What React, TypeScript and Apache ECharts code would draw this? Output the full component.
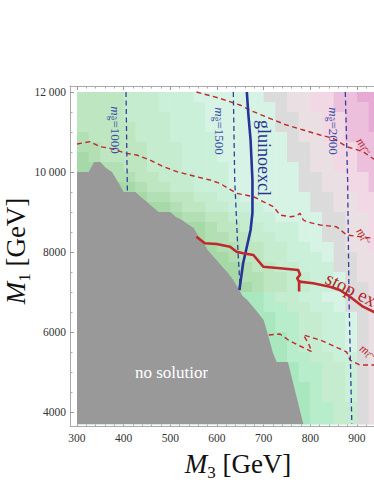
import React, { useEffect, useRef } from "react";
import * as echarts from "echarts";

const SERIF = "'Liberation Serif', 'DejaVu Serif', serif";

// ---------- axis ticks ----------
const xMajorTicks = [300, 400, 500, 600, 700, 800, 900, 1000];
const xTickLabels = [300, 400, 500, 600, 700, 800, 900];
const xMinorTicks = [320, 340, 360, 380, 420, 440, 460, 480, 520, 540, 560, 580, 620, 640, 660, 680, 720, 740, 760, 780, 820, 840, 860, 880, 920, 940, 960, 980];
const yMajorTicks = [4000, 6000, 8000, 10000, 12000];
const yMinorTicks = [4500, 5000, 5500, 6500, 7000, 7500, 8500, 9000, 9500, 10500, 11000, 11500];

// ---------- background shading (level per cell) ----------
// rows: from M1 = 12000 downwards, 250 GeV each (last row reaches 3700)
// columns: from M3 = 300, 25 GeV each
const levelRows = [
  "222233344455555566778899aaaa",
  "2222333444455555567788999aaa",
  "2222333344455555566778899aaa",
  "2222233344455555566778899aaa",
  "12222333444455555567788999aa",
  "11222233344455555566778899aa",
  "01222233344455555566778899aa",
  "001122333444455555567788999a",
  "000112233344455555566778899a",
  "0000012233444555555667788999",
  "0000001122334455555566778899",
  "0000000012233444555566778899",
  "0000000001122334455556677889",
  "0000000000012233444556677889",
  "0000000000011223344556677889",
  "0000000000001122334455677889",
  "0000000000000122334445667788",
  "0000000000000012233444667788",
  "0000000000000011223344567788",
  "0000000000000001223344466778",
  "mmmmmmmmmmmmmmmmn33445566778",
  "mmmmmmmmmmmmmmmmnn3344566778",
  "mmmmmmmmmmmmmmmmmnn334456778",
  "mmmmmmmmmmmmmmmmmnn334456778",
  "mmmmmmmmmmmmmmmmmmn334456778",
  "mmmmmmmmmmmmmmmmmmn334456778",
  "mmmmmmmmmmmmmmmmmmnn33446778",
  "mmmmmmmmmmmmmmmmmmmnn3346778",
  "mmmmmmmmmmmmmmmmmmmnn3346778",
  "mmmmmmmmmmmmmmmmmmmmn3346778",
  "mmmmmmmmmmmmmmmmmmmmn3346778",
  "mmmmmmmmmmmmmmmmmmmmnn336778",
  "mmmmmmmmmmmmmmmmmmmmnn336778",
];
const levelKeys = "0123456789amn";
const levelColors = [
  "#a6d9a7", "#b2e0b4", "#bde6c1", "#c5ecce", "#cbf0da", "#d7f3e5",
  "#dbdbdb", "#eadfe3", "#f2d7e4", "#ecc0dc", "#e6aad4", "#a9e7bf", "#b8edcb",
];
const cellX0 = 300;
const cellW = 25;
const cellTop = 12000;
const cellH = 250;
const cellBottom = 3700;

// ---------- "no solution" region ----------
const noSolution = [
  [300, 3700], [300, 10000], [325, 10000], [337, 10250], [350, 10250], [362, 10100],
  [375, 10000], [388, 9750], [400, 9500], [425, 9500], [437, 9375], [450, 9250],
  [462, 9125], [475, 9000], [500, 9000], [512, 8875], [525, 8800], [537, 8700],
  [550, 8600], [560, 8400], [570, 8250], [580, 8050], [596, 7840], [612, 7625],
  [624, 7470], [635, 7300], [645, 7100], [655, 6900], [665, 6800], [683, 6550],
  [700, 6300], [710, 5900], [720, 5475], [728, 5250], [752, 5250], [768, 4500], [785, 3700],
];

// ---------- curves ----------
const mg1000 = [[405, 12000], [408, 9500]];
const mg1500 = [[635, 12000], [638, 9800], [645, 8000], [650, 7050]];
const mg2000 = [[875, 12000], [880, 9800], [883, 6800], [889, 3700]];
const gluinoExcl = [[664, 12000], [667, 11470], [672, 10800], [676, 9800], [676, 8975], [672, 8550], [664, 8130], [656, 7720], [651, 7300], [648, 7050]];
const stopExcl = [[556, 8383], [574, 8217], [599, 8200], [628, 8133], [642, 8008], [656, 7967], [678, 7925], [699, 7633], [735, 7593], [774, 7550], [778, 7430], [772, 7340], [776, 7260], [806, 7218], [842, 7133], [863, 7050], [885, 6883], [913, 6633], [945, 6450]];
const stopExclSpike = [[776, 7300], [776, 7010]];
const mStopUpper = [[556, 12000], [606, 11842], [649, 11675], [678, 11508], [713, 11342], [749, 11175], [785, 11050], [821, 10925], [849, 10842], [878, 10633], [913, 10508], [945, 10250]];
const mStopMiddle = [[300, 10700], [328, 10758], [349, 10633], [371, 10592], [406, 10467], [428, 10425], [456, 10300], [485, 10133], [514, 10008], [556, 9883], [585, 9800], [606, 9717], [642, 9467], [678, 9383], [721, 9133], [735, 8925], [756, 8883], [770, 8900], [778, 8967], [785, 8800], [792, 8758], [821, 8675], [856, 8633], [878, 8425], [906, 8383], [945, 8330]];
const mStopLower = [[711, 5925], [735, 5950], [756, 5775], [778, 5650], [803, 5508], [796, 5717], [785, 5925], [821, 5800], [853, 5633], [878, 5500], [885, 5300], [906, 5175], [945, 5175]];

// ---------- build cell table ----------
const cells: number[][] = [];
levelRows.forEach((row, r) => {
  const yTop = cellTop - r * cellH;
  const yBot = r === levelRows.length - 1 ? cellBottom : yTop - cellH;
  for (let c = 0; c < row.length; c++) {
    const x0 = cellX0 + c * cellW;
    cells.push([x0, yBot, x0 + cellW, yTop, levelKeys.indexOf(row[c])]);
  }
});

const BLUE = "#2f3f9f";
const BLUE_TXT = "#3b4ea6";
const RED = "#c0282e";

const lineSeries = (data: number[][], color: string, width: number, dashed: boolean, z = 3) => ({
  type: "line",
  data,
  showSymbol: false,
  symbol: "none",
  silent: true,
  z,
  clip: true,
  lineStyle: { color, width, type: dashed ? [5, 3.5] : "solid", cap: "butt", join: "round" },
  emphasis: { disabled: true },
});

const xBase = {
  type: "value",
  min: 285,
  max: 1010,
  splitLine: { show: false },
  axisLine: { show: false },
  axisTick: { show: false },
  axisLabel: { show: false },
};
const yBase = {
  type: "value",
  min: 3650,
  max: 12150,
  splitLine: { show: false },
  axisLine: { show: false },
  axisTick: { show: false },
  axisLabel: { show: false },
};
const frameLine = { show: true, onZero: false, lineStyle: { color: "#aaaaaa", width: 1 } };
const majorTick = (vals: number[]) => ({ show: true, inside: true, length: 4, customValues: vals, lineStyle: { color: "#999999", width: 1 } });
const minorTick = (vals: number[]) => ({ show: true, inside: true, length: 2.5, customValues: vals, lineStyle: { color: "#aaaaaa", width: 1 } });

const mgLabel = (x: number, y: number, val: string) => ({
  type: "text",
  x,
  y,
  rotation: -Math.PI / 2,
  z: 100,
  style: {
    text: `{i|m}{s|g\u0303}{t|=${val}}`,
    fontFamily: SERIF,
    fontSize: 13,
    fill: BLUE_TXT,
    align: "center",
    verticalAlign: "middle",
    rich: {
      i: { fontFamily: SERIF, fontSize: 13, fontStyle: "italic", fill: BLUE_TXT, lineHeight: 17 },
      s: { fontFamily: SERIF, fontSize: 9.5, fill: BLUE_TXT, verticalAlign: "bottom", lineHeight: 11 },
      t: { fontFamily: SERIF, fontSize: 13, fill: BLUE_TXT, lineHeight: 17 },
    },
  },
});

const mtLabel = (x: number, y: number, rot: number) => ({
  type: "text",
  x,
  y,
  rotation: rot,
  z: 100,
  style: {
    text: "{i|m}{s|t\u0303}{t|~}",
    fontFamily: SERIF,
    fontSize: 12,
    fill: RED,
    align: "left",
    verticalAlign: "middle",
    rich: {
      i: { fontFamily: SERIF, fontSize: 12, fontStyle: "italic", fill: RED, lineHeight: 15 },
      s: { fontFamily: SERIF, fontSize: 9, fontStyle: "italic", fill: RED, verticalAlign: "bottom", lineHeight: 10 },
      t: { fontFamily: SERIF, fontSize: 12, fill: RED, lineHeight: 15 },
    },
  },
});

const axisTitle = (x: number, y: number, rot: number, sub: string) => ({
  type: "text",
  x,
  y,
  rotation: rot,
  z: 100,
  style: {
    text: `{i|M}{s|${sub}}{t| [GeV]}`,
    fontFamily: SERIF,
    fontSize: 27,
    fill: "#111111",
    align: "center",
    verticalAlign: "middle",
    rich: {
      i: { fontFamily: SERIF, fontSize: 27, fontStyle: "italic", fill: "#111111", lineHeight: 34 },
      s: { fontFamily: SERIF, fontSize: 17, fill: "#111111", verticalAlign: "bottom", lineHeight: 16 },
      t: { fontFamily: SERIF, fontSize: 27, fill: "#111111", lineHeight: 34 },
    },
  },
});

const option = {
  animation: false,
  backgroundColor: "#ffffff",
  textStyle: { fontFamily: SERIF },
  grid: { left: 70, top: 86, right: -34.3, bottom: 58, containLabel: false, outerBoundsMode: "none" },
  xAxis: [
    {
      ...xBase,
      position: "bottom",
      axisLine: frameLine,
      axisTick: majorTick(xMajorTicks),
      axisLabel: { show: true, customValues: xTickLabels, margin: 6, fontFamily: SERIF, fontSize: 11.5, color: "#333333" },
    },
    { ...xBase, position: "bottom", axisTick: minorTick(xMinorTicks) },
    { ...xBase, position: "top", axisLine: frameLine, axisTick: majorTick(xMajorTicks) },
    { ...xBase, position: "top", axisTick: minorTick(xMinorTicks) },
  ],
  yAxis: [
    {
      ...yBase,
      position: "left",
      axisLine: frameLine,
      axisTick: majorTick(yMajorTicks),
      axisLabel: {
        show: true,
        customValues: yMajorTicks,
        margin: 4,
        fontFamily: SERIF,
        fontSize: 11.5,
        color: "#333333",
        formatter: (v: number) => (v >= 10000 ? `${Math.floor(v / 1000)} ${String(v % 1000).padStart(3, "0")}` : String(v)),
      },
    },
    { ...yBase, position: "left", axisTick: minorTick(yMinorTicks) },
  ],
  series: [
    {
      type: "custom",
      coordinateSystem: "cartesian2d",
      data: cells,
      encode: { x: [0, 2], y: [1, 3] },
      clip: true,
      silent: true,
      z: 1,
      renderItem: (params: any, api: any) => {
        const p0 = api.coord([api.value(0), api.value(3)]);
        const p1 = api.coord([api.value(2), api.value(1)]);
        return {
          type: "rect",
          shape: { x: p0[0], y: p0[1], width: p1[0] - p0[0] + 0.6, height: p1[1] - p0[1] + 0.6 },
          style: { fill: levelColors[api.value(4)] },
        };
      },
    },
    {
      type: "custom",
      coordinateSystem: "cartesian2d",
      data: [[500, 6000]],
      encode: { x: 0, y: 1 },
      clip: true,
      silent: true,
      z: 2,
      renderItem: (params: any, api: any) => ({
        type: "polygon",
        shape: { points: noSolution.map((p) => api.coord(p)) },
        style: { fill: "#999999" },
      }),
    },
    lineSeries(mStopUpper, RED, 1.4, true),
    lineSeries(mStopMiddle, RED, 1.4, true),
    lineSeries(mStopLower, RED, 1.4, true),
    lineSeries(mg1000, BLUE, 1.3, true),
    lineSeries(mg1500, BLUE, 1.3, true),
    lineSeries(mg2000, BLUE, 1.3, true),
    lineSeries(gluinoExcl, "#26349a", 2.6, false, 4),
    lineSeries(stopExcl, RED, 2.6, false, 5),
    lineSeries(stopExclSpike, RED, 2.6, false, 5),
  ],
  graphic: [
    axisTitle(16, 251, Math.PI / 2, "1"),
    axisTitle(238, 464, 0, "3"),
    mgLabel(115, 130, "1000"),
    mgLabel(219, 131, "1500"),
    mgLabel(333, 131, "2000"),
    {
      type: "text",
      x: 263.5,
      y: 158,
      rotation: -Math.PI / 2,
      z: 100,
      style: { text: "gluinoexcl", fontFamily: SERIF, fontSize: 18, fill: "#27358f", align: "center", verticalAlign: "middle" },
    },
    {
      type: "text",
      x: 327,
      y: 277,
      rotation: -0.47,
      z: 100,
      style: { text: "stop excl", fontFamily: SERIF, fontSize: 19, fill: "#b5262c", align: "left", verticalAlign: "middle" },
    },
    mtLabel(359, 139, -0.9),
    mtLabel(359, 229, -0.9),
    mtLabel(361, 347, -0.6),
    {
      type: "text",
      x: 135,
      y: 372,
      z: 100,
      style: { text: "no solution", fontFamily: SERIF, fontSize: 17, fill: "#ffffff", align: "left", verticalAlign: "middle" },
    },
    { type: "rect", z: 101, shape: { x: 208, y: 360, width: 10, height: 24 }, style: { fill: "#999999" } },
  ],
};

export default function App() {
  const ref = useRef<HTMLDivElement>(null);
  useEffect(() => {
    const chart = echarts.init(ref.current as HTMLDivElement, null, { renderer: "svg" });
    chart.setOption(option as any);
    return () => chart.dispose();
  }, []);
  return (
    <div
      ref={ref}
      style={{ position: "fixed", left: 0, top: 0, width: 374, height: 484, background: "#ffffff", overflow: "hidden" }}
    />
  );
}
